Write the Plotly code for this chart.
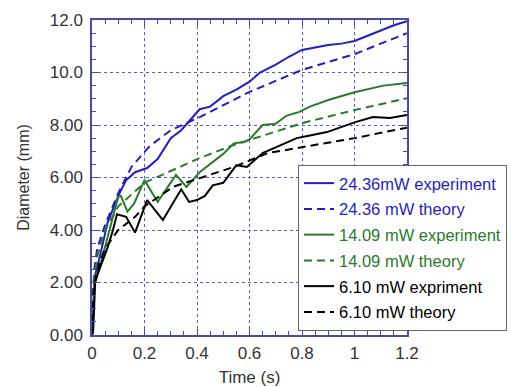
import plotly.graph_objects as go

# ---- data ----
blue_exp_t = [0, 0.005, 0.01, 0.03, 0.06, 0.1, 0.13, 0.164, 0.21, 0.25, 0.3, 0.34, 0.41, 0.45, 0.5, 0.55,
              0.6, 0.64, 0.7, 0.75, 0.8, 0.85, 0.9, 0.95, 1.0, 1.05, 1.1, 1.15, 1.2]
blue_exp_d = [0, 1.5, 2.2, 3.0, 4.3, 5.3, 5.9, 6.2, 6.36, 6.7, 7.5, 7.8, 8.6, 8.7, 9.1, 9.35,
              9.65, 10.0, 10.3, 10.6, 10.86, 10.95, 11.05, 11.1, 11.2, 11.4, 11.6, 11.8, 11.95]

blue_th_t = [0, 0.003, 0.01, 0.02, 0.05, 0.1, 0.15, 0.22, 0.3, 0.41, 0.6, 0.8, 1.0, 1.2]
blue_th_d = [0, 1.5, 2.6, 3.3, 4.2, 5.4, 6.4, 7.2, 7.8, 8.3, 9.26, 10.1, 10.7, 11.5]

green_exp_t = [0, 0.01, 0.03, 0.06, 0.09, 0.1, 0.11, 0.135, 0.16, 0.2, 0.25, 0.32, 0.36, 0.41, 0.46,
               0.5, 0.54, 0.58, 0.6, 0.65, 0.7, 0.74, 0.79, 0.83, 0.9, 1.0, 1.11, 1.2]
green_exp_d = [0, 2.0, 2.6, 3.8, 4.9, 5.26, 5.3, 4.7, 5.0, 5.9, 5.07, 6.1, 5.64, 6.2, 6.6,
               6.9, 7.3, 7.35, 7.45, 8.0, 8.05, 8.35, 8.5, 8.7, 8.95, 9.25, 9.5, 9.6]

green_th_t = [0, 0.005, 0.02, 0.05, 0.1, 0.2, 0.41, 0.54, 0.6, 0.8, 1.0, 1.2]
green_th_d = [0, 1.8, 3.0, 4.0, 4.9, 5.8, 6.74, 7.24, 7.43, 8.07, 8.57, 9.02]

black_exp_t = [0, 0.004, 0.008, 0.012, 0.023, 0.04, 0.06, 0.08, 0.095, 0.13, 0.164, 0.21, 0.27, 0.34,
               0.37, 0.4, 0.43, 0.46, 0.5, 0.55, 0.59, 0.65, 0.72, 0.78, 0.83, 0.895, 1.0, 1.07, 1.135, 1.2]
black_exp_d = [0, 0.1, 1.0, 2.0, 2.36, 2.8, 3.35, 4.0, 4.6, 4.5, 3.9, 5.14, 4.38, 5.55,
               5.07, 5.14, 5.3, 5.7, 5.8, 6.47, 6.4, 6.93, 7.24, 7.5, 7.6, 7.73, 8.1, 8.3, 8.27, 8.38]

black_th_t = [0, 0.005, 0.01, 0.03, 0.05, 0.1, 0.164, 0.2, 0.31, 0.41, 0.54, 0.67, 0.8, 1.0, 1.2]
black_th_d = [0, 1.5, 2.0, 2.8, 3.3, 4.0, 4.5, 4.9, 5.65, 5.98, 6.4, 6.93, 7.16, 7.5, 7.9]

x_ticks = [0, 0.2, 0.4, 0.6, 0.8, 1.0, 1.2]
x_tick_labels = ["0", "0.2", "0.4", "0.6", "0.8", "1", "1.2"]
y_ticks = [0, 2, 4, 6, 8, 10, 12]
y_tick_labels = ["0.00", "2.00", "4.00", "6.00", "8.00", "10.0", "12.0"]

BLUE = "#1f1fc4"
GREEN = "#2b7a2b"
BLACK = "#000000"
AXIS = "#4a4aa8"
FONT = "Arial, Liberation Sans, sans-serif"
TXT = "#333333"

series = [
    (blue_exp_t, blue_exp_d, BLUE, "solid", "24.36mW experiment"),
    (blue_th_t, blue_th_d, BLUE, "8px,5px", "24.36 mW theory"),
    (green_exp_t, green_exp_d, GREEN, "solid", "14.09 mW experiment"),
    (green_th_t, green_th_d, GREEN, "8px,5px", "14.09 mW theory"),
    (black_exp_t, black_exp_d, BLACK, "solid", "6.10 mW expriment"),
    (black_th_t, black_th_d, BLACK, "8px,5px", "6.10 mW theory"),
]

fig = go.Figure()
for i, (t, d, c, dash, name) in enumerate(series):
    fig.add_trace(go.Scatter(
        x=t, y=d, mode="lines",
        line=dict(color=c, width=2, dash=dash),
        name=f'<span style="color:{c}">{name}</span>',
        legendgroup=f"g{i}",
    ))

axis_common = dict(
    showline=True, linecolor=AXIS, linewidth=1.5, mirror="allticks",
    ticks="inside", ticklen=6, tickcolor=AXIS, tickwidth=1,
    showgrid=True, gridcolor="#5a5ad0", griddash="dot", gridwidth=1,
    zeroline=False,
    tickfont=dict(family=FONT, size=17, color=TXT),
)

fig.update_xaxes(
    range=[0, 1.2], tickmode="array", tickvals=x_ticks, ticktext=x_tick_labels,
    minor=dict(ticks="inside", ticklen=4, tickcolor=AXIS, dtick=0.05, tick0=0, showgrid=False),
    title=dict(text="Time (s)", font=dict(family=FONT, size=17, color=TXT), standoff=11),
    ticklabelstandoff=2,
    **axis_common,
)
fig.update_yaxes(
    range=[0, 12], tickmode="array", tickvals=y_ticks, ticktext=y_tick_labels,
    minor=dict(ticks="inside", ticklen=4, tickcolor=AXIS, dtick=0.5, tick0=0, showgrid=False),
    title=dict(text="Diameter (mm)", font=dict(family=FONT, size=16, color=TXT), standoff=16),
    ticklabelstandoff=4,
    **axis_common,
)

fig.update_layout(
    width=511, height=387,
    margin=dict(l=92, r=104, t=20, b=52, autoexpand=False),
    paper_bgcolor="white", plot_bgcolor="white",
    font=dict(family=FONT, size=17, color=TXT),
    showlegend=True,
    legend=dict(
        x=0.654, y=0.54, xanchor="left", yanchor="top",
        bgcolor="white", bordercolor="#666666", borderwidth=1,
        font=dict(family=FONT, size=16.5),
        tracegroupgap=1.3, itemwidth=30,
    ),
)

fig.write_html("out.html")
